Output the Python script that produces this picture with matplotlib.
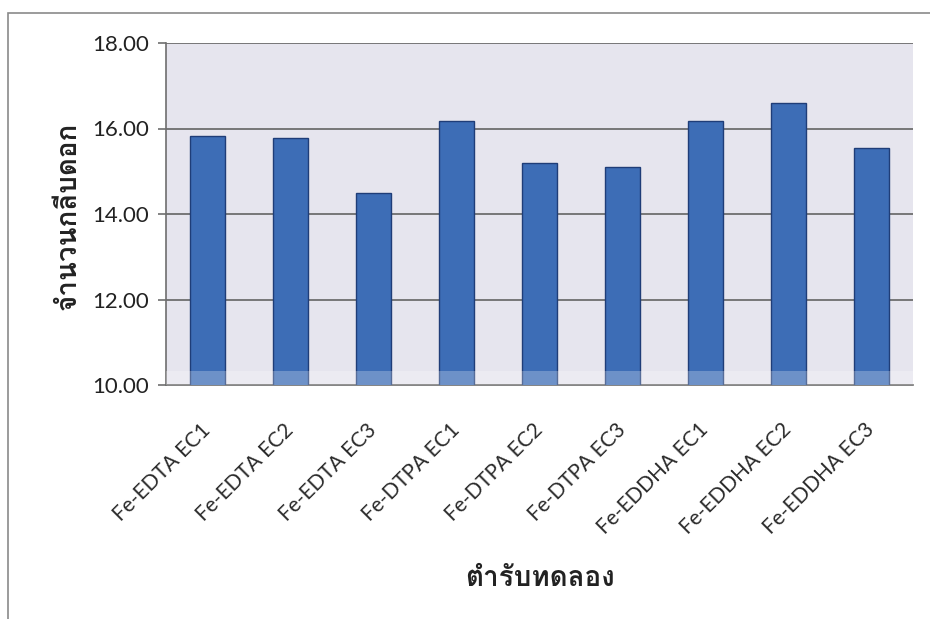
import matplotlib
matplotlib.use("Agg")
import matplotlib.pyplot as plt
from matplotlib import font_manager
from matplotlib.ft2font import FT2Font
from matplotlib.patches import Rectangle
import numpy as np

treatments = ["Fe-EDTA EC1", "Fe-EDTA EC2", "Fe-EDTA EC3",
              "Fe-DTPA EC1", "Fe-DTPA EC2", "Fe-DTPA EC3",
              "Fe-EDDHA EC1", "Fe-EDDHA EC2", "Fe-EDDHA EC3"]
petals = [15.82, 15.78, 14.49, 16.17, 15.19, 15.09, 16.18, 16.59, 15.54]
yticks = [10, 12, 14, 16, 18]


def thai_family():
    # pick any installed family that has Thai glyphs
    for f in font_manager.fontManager.ttflist:
        try:
            if 0x0E08 in FT2Font(f.fname).get_charmap():
                return f.name
        except Exception:
            pass
    return "DejaVu Sans"


thai = thai_family()
plt.rcParams["font.family"] = ["Lato", thai, "DejaVu Sans"]

fig = plt.figure(figsize=(9.3, 6.19), dpi=100)
W, H = 930, 619
ax = fig.add_axes([166 / W, 1 - 385 / H, (913 - 166) / W, (385 - 43) / H])

# outer chart frame
fig.patches.append(Rectangle((8 / W, -0.1), 1.2, 1 - 13 / H + 0.1,
                             transform=fig.transFigure, fill=False,
                             edgecolor="#8a8a8a", linewidth=1.2))

x = np.arange(len(treatments))
ax.set_facecolor("#e6e5ee")
ax.bar(x, petals, width=0.42, bottom=0, color="#3d6db6",
       edgecolor="#1f3d78", linewidth=1.0, zorder=3)
ax.axhspan(10, 10.33, color="white", alpha=0.25, lw=0, zorder=4)

ax.set_ylim(10, 18)
ax.set_xlim(-0.5, len(treatments) - 0.5)
ax.set_yticks(yticks)
ax.set_yticklabels([f"{v:.2f}" for v in yticks], fontsize=16, color="#222222")
ax.yaxis.grid(True, color="#6e6e6e", linewidth=1.3, zorder=1)
ax.set_axisbelow(True)

ax.set_xticks(x)
ax.set_xticklabels(treatments, rotation=45, ha="right", va="center",
                   rotation_mode="anchor", fontsize=15, color="#2a2a2a")
ax.tick_params(axis="x", length=0, pad=30)
ax.tick_params(axis="y", length=6, width=1.2, color="#6e6e6e", pad=6)

for side in ["top", "right"]:
    ax.spines[side].set_visible(False)
ax.spines["left"].set_color("#6e6e6e")
ax.spines["left"].set_linewidth(1.2)
ax.spines["bottom"].set_color("#6e6e6e")
ax.spines["bottom"].set_linewidth(1.2)

fig.text(68 / W, 1 - 216 / H, "จำนวนกลีบดอก", rotation=90, ha="center",
         va="center", fontsize=20, fontweight="bold", color="#222222",
         family=[thai, "DejaVu Sans"])
fig.text(540 / W, 1 - 578 / H, "ตำรับทดลอง", ha="center", va="center",
         fontsize=20, fontweight="bold", color="#222222",
         family=[thai, "DejaVu Sans"])

fig.savefig("out.png", dpi=100, facecolor="white")
